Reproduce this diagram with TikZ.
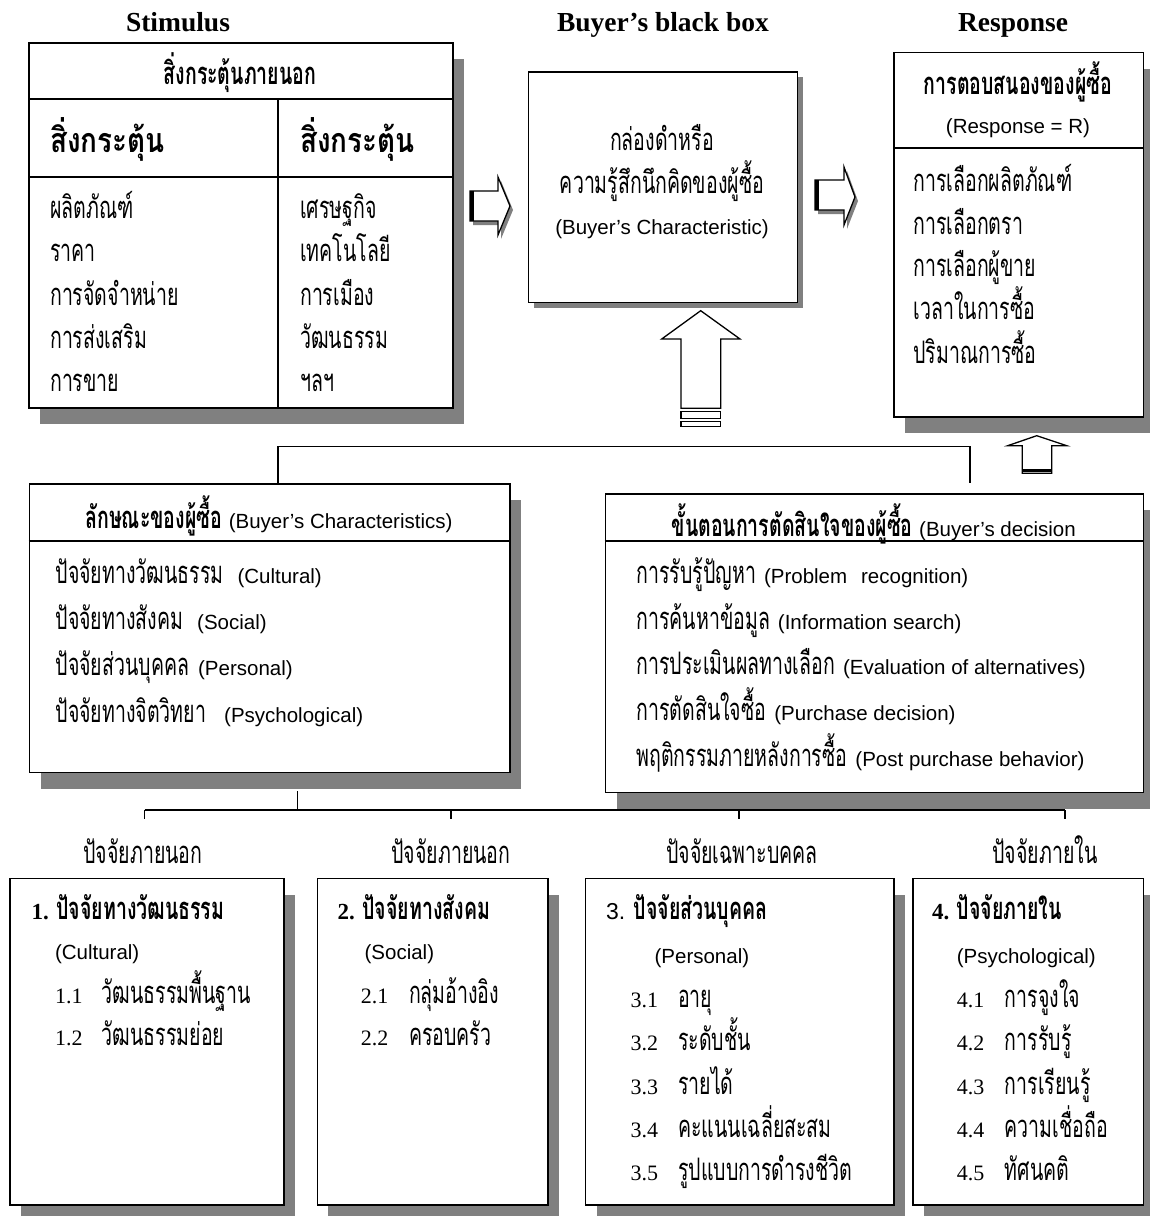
\documentclass[tikz,border=0pt]{standalone}
\usepackage{fontspec}
\setmainfont{Liberation Serif}
\newfontfamily\arf{Liberation Sans}
\newfontfamily\thf[Script=Thai,FakeStretch=0.63]{Loma}
\newfontfamily\thfw[Script=Thai,FakeStretch=0.82]{Loma}
\usetikzlibrary{shadows}
\definecolor{shd}{HTML}{808080}
\newcommand\ThR{\thf\mdseries\fontsize{31}{34}\selectfont}
\newcommand\ThB{\thf\bfseries\fontsize{31}{34}\selectfont}
\newcommand\ThBig{\thfw\bfseries\fontsize{34}{38}\selectfont}
\newcommand\EnS{\arf\mdseries\fontsize{20.5}{24}\selectfont}
\newcommand\EnL{\arf\mdseries\fontsize{23}{26}\selectfont}
\newcommand\NumF{\rmfamily\mdseries\fontsize{22}{24}\selectfont}
\newcommand\NumB{\rmfamily\bfseries\fontsize{23}{25}\selectfont}
\newcommand\TitF{\rmfamily\bfseries\fontsize{27.5}{30}\selectfont}
\tikzset{
  box/.style={draw=black, line width=1.6pt, fill=white, inner sep=0pt, anchor=north west, rectangle},
  shA/.style={drop shadow={shadow xshift=11pt, shadow yshift=-16pt, fill=shd, opacity=1}},
  shB/.style={drop shadow={shadow xshift=5pt, shadow yshift=-5pt, fill=shd, opacity=1}},
  txt/.style={inner sep=0pt, anchor=base west},
  ctxt/.style={inner sep=0pt, anchor=base},
  divline/.style={line width=1.6pt},
  conn/.style={line width=1.3pt},
  barrow/.style={draw=black, line width=1.3pt, fill=white, line join=miter},
  ashadow/.style={fill=shd, draw=none},
}
\begin{document}
\begin{tikzpicture}[x=1pt,y=-1pt]
\useasboundingbox (0,0) rectangle (1150,1216);

% titles
\node[ctxt] (t1) at (178,31) {\TitF Stimulus};
\node[ctxt] (t2) at (663,31) {\TitF Buyer’s black box};
\node[ctxt] (t3) at (1013,31) {\TitF Response};

% ---------- Stimulus box
\node[box, shA, minimum width=424pt, minimum height=365pt] (stim) at (28,42) {};
\draw[divline] (stim.west |- 0,99) -- (stim.east |- 0,99);
\draw[divline] (stim.west |- 0,177) -- (stim.east |- 0,177);
\draw[divline] (278,99) -- (278 ,0 |- stim.south);
\node[ctxt] (sh) at (240,84) {\ThB สิ่งกระตุ้นภายนอก};
\node[txt] (sb1) at (50,152) {\ThBig สิ่งกระตุ้น};
\node[txt] (sb2) at (300,152) {\ThBig สิ่งกระตุ้น};
\node[txt] (s11) at (50,218) {\ThR ผลิตภัณฑ์};
\node[txt] (s12) at (50,261) {\ThR ราคา};
\node[txt] (s13) at (50,305) {\ThR การจัดจำหน่าย};
\node[txt] (s14) at (50,348) {\ThR การส่งเสริม};
\node[txt] (s15) at (50,391) {\ThR การขาย};
\node[txt] (s21) at (300,218) {\ThR เศรษฐกิจ};
\node[txt] (s22) at (300,261) {\ThR เทคโนโลยี};
\node[txt] (s23) at (300,305) {\ThR การเมือง};
\node[txt] (s24) at (300,348) {\ThR วัฒนธรรม};
\node[txt] (s25) at (300,391) {\ThR ฯลฯ};

% ---------- Black box
\node[box, shB, minimum width=269pt, minimum height=230.7pt] (bbox) at (527.7,71) {};
\node[ctxt] (b1) at (662,150) {\ThR กล่องดำหรือ};
\node[ctxt] (b2) at (662,193) {\ThR ความรู้สึกนึกคิดของผู้ซื้อ};
\node[ctxt] (b3) at (662,234) {\EnS (Buyer’s Characteristic)};

% ---------- Response box
\node[box, shA, minimum width=249.4pt, minimum height=364.3pt] (resp) at (893.3,51.7) {};
\draw[divline] (resp.west |- 0,147.7) -- (resp.east |- 0,147.7);
\node[ctxt] (r0) at (1018,94) {\ThB การตอบสนองของผู้ซื้อ};
\node[ctxt] (r00) at (1018,133.5) {\EnS (Response = R)};
\node[txt] (r1) at (913.3,191.3) {\ThR การเลือกผลิตภัณฑ์};
\node[txt] (r2) at (913.3,234) {\ThR การเลือกตรา};
\node[txt] (r3) at (913.3,276.3) {\ThR การเลือกผู้ขาย};
\node[txt] (r4) at (913.3,319.7) {\ThR เวลาในการซื้อ};
\node[txt] (r5) at (913.3,363) {\ThR ปริมาณการซื้อ};

% ---------- block arrows
\fill[ashadow] (473,195) -- (501,195) -- (501,181) -- (513,210) -- (501,239) -- (501,225) -- (473,225) -- cycle;
\draw[barrow] (470,191) -- (498,191) -- (498,177) -- (510,206) -- (498,235) -- (498,221) -- (470,221) -- cycle;
\draw[line width=4pt] (472,191) -- (472,221);
\fill[ashadow] (818,184) -- (847,184) -- (847,171) -- (858,201) -- (847,229) -- (847,214) -- (818,214) -- cycle;
\draw[barrow] (815,180) -- (844,180) -- (844,167) -- (855,197) -- (844,225) -- (844,210) -- (815,210) -- cycle;
\draw[line width=4pt] (817,180) -- (817,210);
% big up arrow
\draw[barrow] (681,408.3) -- (681,339) -- (661.7,339) -- (700.7,310.7) -- (740,339) -- (720.7,339) -- (720.7,408.3) -- cycle;
\draw[line width=1.2pt] (681,411.7) rectangle (720.7,418.3);
\draw[line width=1.2pt] (681,421.7) rectangle (720.7,426.7);
% small up arrow
\draw[barrow] (1022.3,473.3) -- (1022.3,445.7) -- (1007.7,445.7) -- (1036.7,435.7) -- (1066.7,445.7) -- (1051.7,445.7) -- (1051.7,473.3) -- cycle;
\draw[line width=3pt] (1022.3,470.5) -- (1051.7,470.5);

% ---------- Buyer's characteristics
\node[box, shA, minimum width=480.3pt, minimum height=288.4pt] (bchar) at (28.7,483.3) {};
\draw[divline] (bchar.west |- 0,541) -- (bchar.east |- 0,541);
\node[ctxt] (ch0) at (268.9,528) {\ThB ลักษณะของผู้ซื้อ {\EnS (Buyer’s Characteristics)}};
\node[txt] (ch1) at (55.5,583) {\ThR ปัจจัยทางวัฒนธรรม\hspace{14pt}{\EnS (Cultural)}};
\node[txt] (ch2) at (55.5,629.7) {\ThR ปัจจัยทางสังคม\hspace{14pt}{\EnS (Social)}};
\node[txt] (ch3) at (55.5,675.7) {\ThR ปัจจัยส่วนบุคคล\hspace{9pt}{\EnS (Personal)}};
\node[txt] (ch4) at (55.5,722) {\ThR ปัจจัยทางจิตวิทยา\hspace{18pt}{\EnS (Psychological)}};

% ---------- Buyer's decision
\node[box, shA, minimum width=538pt, minimum height=298.4pt] (bdec) at (604.7,493.3) {};
\draw[divline] (bdec.west |- 0,541) -- (bdec.east |- 0,541);
\node[ctxt] (d0) at (873.7,536.3) {\ThB ขั้นตอนการตัดสินใจของผู้ซื้อ {\EnS (Buyer’s decision}};
\node[txt] (d1) at (636.3,583) {\ThR การรับรู้ปัญหา\hspace{8pt}{\EnS (Problem\hspace{14pt}recognition)}};
\node[txt] (d2) at (636.3,629) {\ThR การค้นหาข้อมูล\hspace{8pt}{\EnS (Information search)}};
\node[txt] (d3) at (636.3,674.7) {\ThR การประเมินผลทางเลือก\hspace{8pt}{\EnS (Evaluation of alternatives)}};
\node[txt] (d4) at (636.3,720.7) {\ThR การตัดสินใจซื้อ\hspace{8pt}{\EnS (Purchase decision)}};
\node[txt] (d5) at (636.3,766.3) {\ThR พฤติกรรมภายหลังการซื้อ\hspace{8pt}{\EnS (Post purchase behavior)}};

% ---------- connectors
\coordinate (jl) at (278,446.7);
\coordinate (jr) at (970,446.7);
\coordinate (jre) at (970,483.3);
\draw[conn] (jl |- bchar.north) -- (jl) -- (jr) -- (jre);
\coordinate (tt) at (297.7,810);
\coordinate (ttop) at (297.7,791);
\coordinate (dd1) at (144.5,810);
\coordinate (dd2) at (451,810);
\coordinate (dd3) at (739,810);
\coordinate (dd4) at (1065,810);
\draw[conn] (ttop) -- (tt);
\draw[conn] (dd1) -- (dd4);
\foreach \d in {dd1,dd2,dd3,dd4} \draw[conn] (\d) -- ++(0,9.3);

% ---------- labels
\node[ctxt] (l1) at (143,863) {\ThR ปัจจัยภายนอก};
\node[ctxt] (l2) at (451,863) {\ThR ปัจจัยภายนอก};
\node[ctxt] (l3) at (742,863) {\ThR ปัจจัยเฉพาะบคคล};
\node[ctxt] (l4) at (1045,863) {\ThR ปัจจัยภายใน};

% ---------- factor boxes
\node[box, shA, minimum width=274pt, minimum height=326.3pt] (f1) at (9,877.7) {};
\node[box, shA, minimum width=230.8pt, minimum height=326.3pt] (f2) at (316.5,877.7) {};
\node[box, shA, minimum width=308.5pt, minimum height=326.3pt] (f3) at (584.8,877.7) {};
\node[box, shA, minimum width=230.5pt, minimum height=326.3pt] (f4) at (912.2,877.7) {};

\node[txt] (f1h) at (31.4,919.7) {\NumB 1. \ThB ปัจจัยทางวัฒนธรรม};
\node[txt] (f1e) at (54.8,959.7) {\EnS (Cultural)};
\node[txt] (f1n1) at (54.8,1003.2) {\NumF 1.1};
\node[txt] (f1t1) at (101.7,1003.2) {\ThR วัฒนธรรมพื้นฐาน};
\node[txt] (f1n2) at (54.8,1045.8) {\NumF 1.2};
\node[txt] (f1t2) at (101.7,1045.8) {\ThR วัฒนธรรมย่อย};

\node[txt] (f2h) at (337.4,919.7) {\NumB 2. \ThB ปัจจัยทางสังคม};
\node[txt] (f2e) at (364.4,959.7) {\EnS (Social)};
\node[txt] (f2n1) at (360.7,1003.2) {\NumF 2.1};
\node[txt] (f2t1) at (408.8,1003.2) {\ThR กลุ่มอ้างอิง};
\node[txt] (f2n2) at (360.7,1045.8) {\NumF 2.2};
\node[txt] (f2t2) at (408.8,1045.8) {\ThR ครอบครัว};

\node[txt] (f3h) at (605.9,919.7) {\EnL 3. \ThB ปัจจัยส่วนบุคคล};
\node[txt] (f3e) at (654.4,963.7) {\EnS (Personal)};
\node[txt] (f3n1) at (630.3,1007.5) {\NumF 3.1};
\node[txt] (f3t1) at (678,1007.5) {\ThR อายุ};
\node[txt] (f3n2) at (630.3,1050.8) {\NumF 3.2};
\node[txt] (f3t2) at (678,1050.8) {\ThR ระดับชั้น};
\node[txt] (f3n3) at (630.3,1094.2) {\NumF 3.3};
\node[txt] (f3t3) at (678,1094.2) {\ThR รายได้};
\node[txt] (f3n4) at (630.3,1137.5) {\NumF 3.4};
\node[txt] (f3t4) at (678,1137.5) {\ThR คะแนนเฉลี่ยสะสม};
\node[txt] (f3n5) at (630.3,1180.8) {\NumF 3.5};
\node[txt] (f3t5) at (678,1180.8) {\ThR รูปแบบการดำรงชีวิต};

\node[txt] (f4h) at (931.8,919.7) {\NumB 4. \ThB ปัจจัยภายใน};
\node[txt] (f4e) at (956.6,963.7) {\EnS (Psychological)};
\node[txt] (f4n1) at (956.6,1007.5) {\NumF 4.1};
\node[txt] (f4t1) at (1004.7,1007.5) {\ThR การจูงใจ};
\node[txt] (f4n2) at (956.6,1050.8) {\NumF 4.2};
\node[txt] (f4t2) at (1004.7,1050.8) {\ThR การรับรู้};
\node[txt] (f4n3) at (956.6,1094.2) {\NumF 4.3};
\node[txt] (f4t3) at (1004.7,1094.2) {\ThR การเรียนรู้};
\node[txt] (f4n4) at (956.6,1137.5) {\NumF 4.4};
\node[txt] (f4t4) at (1004.7,1137.5) {\ThR ความเชื่อถือ};
\node[txt] (f4n5) at (956.6,1180.8) {\NumF 4.5};
\node[txt] (f4t5) at (1004.7,1180.8) {\ThR ทัศนคติ};
\end{tikzpicture}
\end{document}
